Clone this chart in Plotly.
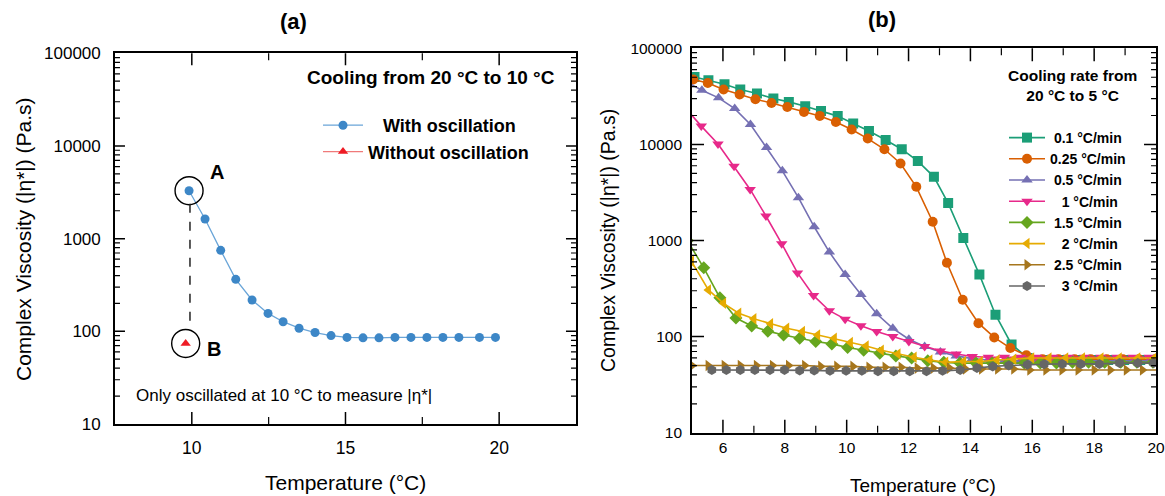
import plotly.graph_objects as go

FONT = "Arial, Liberation Sans, Helvetica, sans-serif"

# ---- panel (a): cooling 20 -> 10 C ----
a_temp = [9.91, 10.43, 10.94, 11.43, 11.96, 12.48, 12.97, 13.49, 14.01, 14.53, 15.05,
          15.57, 16.09, 16.61, 17.13, 17.65, 18.17, 18.69, 19.36, 19.88]
a_visc = [3290, 1630, 748, 364, 218, 156, 127, 108, 97, 90, 86,
          85, 85, 86, 86, 86, 86, 86, 86, 86]
a_noosc_temp = [9.80]
a_noosc_visc = [74]
a_xticks = [10, 15, 20]
a_xminor = [12.5, 17.5]
a_yticks = [10, 100, 1000, 10000, 100000]
a_yticktext = ["10", "100", "1000", "10000", "100000"]

# ---- panel (b): cooling rate 20 -> 5 C ----
b_xticks = [6, 8, 10, 12, 14, 16, 18, 20]
b_xminor = [7, 9, 11, 13, 15, 17, 19]
b_yticks = [10, 100, 1000, 10000, 100000]
b_yticktext = ["10", "100", "1000", "10000", "100000"]

rates = ["0.1 °C/min", "0.25 °C/min", "0.5 °C/min", "1 °C/min",
         "1.5 °C/min", "2 °C/min", "2.5 °C/min", "3 °C/min"]
# leading non-breaking spaces roughly centre the names like the original legend
rate_pad = [1, 0, 1, 3, 1, 3, 1, 3]
rate_colors = ["#1b9e77", "#d95f02", "#7570b3", "#e7298a",
               "#66a61e", "#e6ab02", "#a6761d", "#666666"]
rate_symbols = ["square", "circle", "triangle-up", "triangle-down",
                "diamond", "triangle-left", "triangle-right", "hexagon"]

t_01 = [5.08, 5.53, 6.05, 6.56, 7.10, 7.63, 8.13, 8.66, 9.17, 9.71, 10.21, 10.72, 11.26, 11.78, 12.30,
        12.82, 13.28, 13.77, 14.29, 14.81, 15.33, 15.85, 16.37, 16.89, 17.41, 17.93, 18.45, 18.97, 19.49, 20.0]
v_01 = [50300, 46500, 42300, 37200, 33800, 30000, 27700, 24900, 22300, 19700, 16500, 13800, 11100, 8920, 6700,
        4600, 2450, 1060, 442, 169, 83, 60, 57, 57, 57, 57, 57, 57, 57, 57]

t_025 = [5.04, 5.51, 6.02, 6.54, 7.05, 7.57, 8.08, 8.62, 9.13, 9.65, 10.16, 10.68, 11.22, 11.74, 12.25,
         12.78, 13.24, 13.75, 14.26, 14.77, 15.29, 15.81, 16.33, 16.85, 17.37, 17.89, 18.41, 18.93, 19.45, 19.97]
v_025 = [47300, 43600, 37200, 33000, 29500, 27000, 24500, 21800, 19800, 17100, 14300, 11500, 8900, 6340, 3620,
         1570, 586, 242, 138, 98, 76, 64, 58, 58, 58, 58, 58, 58, 58, 58]

t_05 = [4.80, 5.32, 5.86, 6.38, 6.89, 7.41, 7.92, 8.44, 8.95, 9.44, 9.95, 10.46, 10.97, 11.49, 12.01,
        12.52, 13.03, 13.54, 14.06, 14.58, 15.10, 15.62, 16.14, 16.66, 17.18, 17.70, 18.22, 18.74, 19.26, 19.78]
v_05 = [45000, 36600, 30500, 23600, 16100, 9300, 5310, 2790, 1390, 758, 443, 274, 173, 122, 94,
        79, 69, 63, 59, 57, 56, 56, 56, 56, 56, 56, 56, 56, 56, 56]

t_1 = [4.74, 5.30, 5.84, 6.36, 6.88, 7.39, 7.90, 8.41, 8.93, 9.44, 9.95, 10.46, 10.97, 11.49, 12.01,
       12.52, 13.03, 13.54, 14.06, 14.58, 15.10, 15.62, 16.14, 16.66, 17.18, 17.70, 18.22, 18.74, 19.26, 19.78]
v_1 = [25000, 15500, 10100, 5930, 3400, 1800, 927, 460, 267, 186, 152, 130, 113, 100, 89,
       79, 71, 66, 62, 61, 61, 61, 61, 61, 61, 61, 61, 61, 61, 61]

t_15 = [4.85, 5.38, 5.90, 6.42, 6.93, 7.45, 7.96, 8.48, 9.00, 9.52, 10.03, 10.55, 11.07, 11.59, 12.10,
        12.62, 13.14, 13.66, 14.18, 14.70, 15.22, 15.74, 16.26, 16.78, 17.30, 17.82, 18.34, 18.86, 19.38, 19.90]
v_15 = [1000, 520, 254, 156, 129, 114, 104, 96, 89, 84, 77, 72, 67, 63, 60,
        56, 54, 53, 53, 53, 53, 53, 53, 53, 54, 54, 54, 54, 54, 54]

t_2 = [4.98, 5.53, 6.02, 6.51, 7.00, 7.54, 8.06, 8.57, 9.06, 9.60, 10.12, 10.63, 11.12, 11.66, 12.18,
       12.69, 13.20, 13.78, 14.32, 14.86, 15.40, 15.98, 16.54, 17.08, 17.62, 18.22, 18.81, 19.41, 19.95]
v_2 = [610, 306, 222, 175, 153, 136, 122, 113, 104, 96, 87, 80, 72, 66, 61,
       57, 54, 55, 55, 57, 58, 60, 60, 60, 60, 60, 60, 60, 60]

t_25 = [5.00, 5.52, 6.04, 6.56, 7.08, 7.60, 8.12, 8.64, 9.16, 9.68, 10.20, 10.72, 11.24, 11.76, 12.28,
        12.80, 13.32, 13.84, 14.36, 14.88, 15.40, 15.92, 16.44, 16.96, 17.48, 18.00, 18.52, 19.04, 19.56, 20.08]
v_25 = [50, 50, 50, 50, 50, 50, 50, 50, 49, 49, 49, 48, 48, 48, 47,
        47, 47, 46, 46, 46, 46, 45, 45, 45, 45, 45, 45, 45, 45, 45]

t_3 = [5.64, 6.11, 6.56, 7.03, 7.52, 7.99, 8.48, 8.95, 9.46, 9.98, 10.49, 11.01, 11.52, 12.04,
       12.58, 13.10, 13.67, 14.21, 14.72, 15.24, 15.84, 16.38, 16.97, 17.57, 18.17, 18.82, 19.41, 19.92]
v_3 = [45, 45, 45, 45, 45, 45, 44.5, 44.5, 44, 44, 44, 43.5, 43.5, 43.5,
       43.5, 44, 45, 47, 49, 50, 51, 51.5, 52, 52, 52, 53, 53, 53]

b_temps = [t_01, t_025, t_05, t_1, t_15, t_2, t_25, t_3]
b_viscs = [v_01, v_025, v_05, v_1, v_15, v_2, v_25, v_3]

BLUE = "#3d87c7"
RED = "#ee1c25"

A_XRANGE = [7.5, 22.5]
B_XRANGE = [5, 20]
Y_LO, Y_HI = 10, 100000

# minor tick positions on the log axes: 2..9 x each decade
log_minor = [m * 10 ** k for k in range(1, 5) for m in range(2, 10)]

fig = go.Figure()

# panel (a) data
fig.add_trace(go.Scatter(
    x=a_temp, y=a_visc, mode="lines+markers", name="\u00a0\u00a0\u00a0With oscillation",
    line=dict(color="#6aa5d8", width=1.3), marker=dict(color=BLUE, size=9),
    xaxis="x", yaxis="y", legend="legend"))
fig.add_trace(go.Scatter(
    x=a_noosc_temp, y=a_noosc_visc, mode="lines+markers", name="Without oscillation",
    line=dict(color="#f07a7a", width=1.3), marker=dict(color=RED, size=9, symbol="triangle-up"),
    xaxis="x", yaxis="y", legend="legend"))

# circles around A and B, dashed connector between them
fig.add_trace(go.Scatter(
    x=[a_temp[0], a_noosc_temp[0]], y=[a_visc[0], a_noosc_visc[0]], mode="markers",
    marker=dict(symbol="circle-open", size=28, color="black", line=dict(width=1.4)),
    showlegend=False, hoverinfo="skip", xaxis="x", yaxis="y"))
fig.add_trace(go.Scatter(
    x=[a_temp[0] + 0.03, a_temp[0] + 0.03], y=[a_visc[0] / 1.38, a_noosc_visc[0] * 1.5],
    mode="lines", line=dict(color="#222222", width=1.5, dash="dash"),
    showlegend=False, hoverinfo="skip", xaxis="x", yaxis="y"))

# panel (b) data
for name, pad, col, sym, tx, vy in zip(rates, rate_pad, rate_colors, rate_symbols, b_temps, b_viscs):
    fig.add_trace(go.Scatter(
        x=tx, y=vy, mode="lines+markers", name="\u00a0" * pad + name,
        line=dict(color=col, width=1.6), marker=dict(color=col, size=10, symbol=sym),
        xaxis="x2", yaxis="y2", legend="legend2"))


# Inside ticks: short line markers centred on the axis lines; the half that
# falls outside the plot area is clipped, leaving an inside tick.
# (line-ns / line-ew markers are 1.4 x size long, so size = 2 * len / 1.4)
def tick_trace(xs, ys, symbol, length, width, xa, ya):
    fig.add_trace(go.Scatter(
        x=xs, y=ys, mode="markers", cliponaxis=True, showlegend=False, hoverinfo="skip",
        marker=dict(symbol=symbol, size=2 * length / 1.4, color="black",
                    line=dict(color="black", width=width)),
        xaxis=xa, yaxis=ya))


def add_ticks(xa, ya, xrange, xmajor, xminor, xmaj_len, xmin_len, ymaj_len):
    xin = [v for v in xmajor if xrange[0] < v < xrange[1]]
    for yv in (Y_LO, Y_HI):
        tick_trace(xin, [yv] * len(xin), "line-ns-open", xmaj_len, 1.5, xa, ya)
        tick_trace(xminor, [yv] * len(xminor), "line-ns-open", xmin_len, 1.2, xa, ya)
    ymaj = [v for v in (100, 1000, 10000)]
    for xv in xrange:
        tick_trace([xv] * len(ymaj), ymaj, "line-ew-open", ymaj_len, 1.5, xa, ya)
        tick_trace([xv] * len(log_minor), log_minor, "line-ew-open", 5, 1.2, xa, ya)


add_ticks("x", "y", A_XRANGE, a_xticks, a_xminor, 12, 7, 10)
add_ticks("x2", "y2", B_XRANGE, b_xticks, b_xminor, 13, 7, 12)


# native ticks are invisible; their length only sets the label offset
def lin_axis(domain, rng, ticks, size, anchor, label_gap):
    return dict(domain=domain, range=rng, anchor=anchor, tickmode="array", tickvals=ticks,
                ticks="outside", ticklen=label_gap, tickcolor="rgba(0,0,0,0)",
                showline=True, linecolor="black", linewidth=1.6, mirror=True,
                showgrid=False, zeroline=False, ticklabeloverflow="allow",
                tickfont=dict(family=FONT, size=size, color="black"))


def log_axis(domain, ticks, labels, size, anchor, label_gap):
    return dict(domain=domain, type="log", range=[1, 5], anchor=anchor, tickmode="array",
                tickvals=ticks, ticktext=labels, ticks="outside", ticklen=label_gap,
                tickcolor="rgba(0,0,0,0)",
                showline=True, linecolor="black", linewidth=1.6, mirror=True,
                showgrid=False, zeroline=False, ticklabeloverflow="allow",
                tickfont=dict(family=FONT, size=size, color="black"))


fig.update_layout(
    template="none",
    width=1165, height=496, autosize=False,
    margin=dict(l=0, r=0, t=0, b=0, autoexpand=False),
    paper_bgcolor="white", plot_bgcolor="white",
    font=dict(family=FONT, color="black"),
    xaxis=lin_axis([0.0987, 0.4944], A_XRANGE, a_xticks, 17.5, "y", 7),
    yaxis=log_axis([0.1452, 0.8925], a_yticks, a_yticktext, 17, "x", 9),
    xaxis2=lin_axis([0.594, 0.9923], B_XRANGE, b_xticks, 15.5, "y2", 0),
    yaxis2=log_axis([0.1276, 0.9026], b_yticks, b_yticktext, 15.5, "x2", 5),
    legend=dict(x=318 / 1165, y=1 - 107 / 496, xanchor="left", yanchor="top",
                bgcolor="rgba(0,0,0,0)", borderwidth=0,
                font=dict(family=FONT, size=18, color="black", weight="bold"),
                tracegroupgap=0, itemwidth=40),
    legend2=dict(x=1004 / 1165, y=1 - 122 / 496, xanchor="left", yanchor="top",
                 bgcolor="rgba(0,0,0,0)", borderwidth=0,
                 font=dict(family=FONT, size=14, color="black", weight="bold"),
                 tracegroupgap=0, itemwidth=36),
    showlegend=True,
)

ann = [
    dict(text="<b>(a)</b>", x=293 / 1165, y=1 - 22 / 496, size=22),
    dict(text="<b>(b)</b>", x=882 / 1165, y=1 - 20 / 496, size=22),
    dict(text="Temperature (°C)", x=345 / 1165, y=1 - 482 / 496, size=21),
    dict(text="Temperature (°C)", x=923 / 1165, y=1 - 485 / 496, size=19),
]
for a in ann:
    fig.add_annotation(text=a["text"], x=a["x"], y=a["y"], xref="paper", yref="paper",
                       showarrow=False, xanchor="center", yanchor="middle",
                       font=dict(family=FONT, size=a["size"], color="black"))

fig.add_annotation(text="Complex Viscosity (|η*|) (Pa.s)", x=23 / 1165, y=1 - 239 / 496,
                   xref="paper", yref="paper", showarrow=False, textangle=-90,
                   xanchor="center", yanchor="middle",
                   font=dict(family=FONT, size=21, color="black"))
fig.add_annotation(text="Complex Viscosity (|η*|) (Pa.s)", x=608 / 1165, y=1 - 241 / 496,
                   xref="paper", yref="paper", showarrow=False, textangle=-90,
                   xanchor="center", yanchor="middle",
                   font=dict(family=FONT, size=19.5, color="black"))

fig.add_annotation(text="<b>Cooling from 20 °C to 10 °C</b>", x=557 / 1165, y=1 - 77 / 496,
                   xref="paper", yref="paper", showarrow=False, xanchor="right", yanchor="middle",
                   font=dict(family=FONT, size=19, color="black"))
fig.add_annotation(text="Only oscillated at 10 °C to measure |η*|", x=134 / 1165, y=1 - 395 / 496,
                   xref="paper", yref="paper", showarrow=False, xanchor="left", yanchor="middle",
                   font=dict(family=FONT, size=17, color="black"))
fig.add_annotation(text="<b>Cooling rate from<br>20 °C to 5 °C</b>", x=1072 / 1165, y=1 - 86 / 496,
                   xref="paper", yref="paper", showarrow=False, align="center",
                   xanchor="center", yanchor="middle",
                   font=dict(family=FONT, size=15.5, color="black"))

# A / B labels (log axis -> annotation y is log10)
fig.add_annotation(text="<b>A</b>", x=10.81, y=3.72, xref="x", yref="y", showarrow=False,
                   font=dict(family=FONT, size=20, color="black"))
fig.add_annotation(text="<b>B</b>", x=10.73, y=1.81, xref="x", yref="y", showarrow=False,
                   font=dict(family=FONT, size=20, color="black"))

# the page's default body margin would shift the figure by 8px
fig.write_html("out.html", config={"displayModeBar": False},
               post_script="document.body.style.margin='0px';")
